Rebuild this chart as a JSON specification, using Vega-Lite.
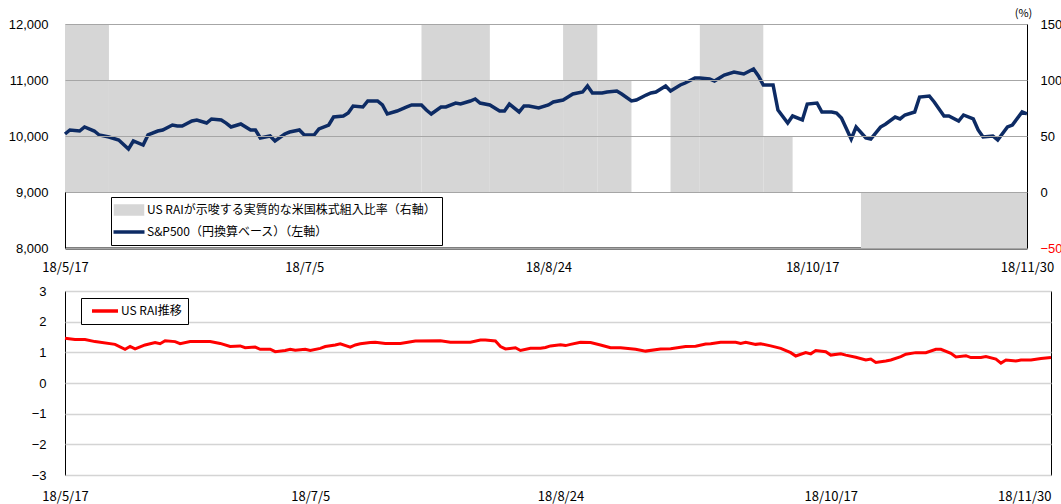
{
  "$schema": "https://vega.github.io/schema/vega-lite/v6.json",
  "background": "white",
  "padding": {"left": 7, "top": 6, "right": 0, "bottom": 0},
  "spacing": 9,
  "config": {
    "view": {"stroke": "#000", "strokeWidth": 1},
    "axis": {"ticks": false, "domain": false, "grid": false, "labelFont": "Liberation Sans", "labelFontSize": 13, "labelColor": "#000", "titleColor": "#000"}
  },
  "datasets": {
    "bars": [
      {"start": "2018-05-17", "end": "2018-05-26", "ratio": 150},
      {"start": "2018-05-26", "end": "2018-07-29", "ratio": 100},
      {"start": "2018-07-29", "end": "2018-08-12", "ratio": 150},
      {"start": "2018-08-12", "end": "2018-08-27", "ratio": 100},
      {"start": "2018-08-27", "end": "2018-09-03", "ratio": 150},
      {"start": "2018-09-03", "end": "2018-09-10", "ratio": 100},
      {"start": "2018-09-10", "end": "2018-09-18", "ratio": 0},
      {"start": "2018-09-18", "end": "2018-09-24", "ratio": 100},
      {"start": "2018-09-24", "end": "2018-10-07", "ratio": 150},
      {"start": "2018-10-07", "end": "2018-10-13", "ratio": 50},
      {"start": "2018-10-13", "end": "2018-10-27", "ratio": 0},
      {"start": "2018-10-27", "end": "2018-11-30", "ratio": -50}
    ],
    "sp": [
      {"date": "2018-05-17", "sp500": 10036}, {"date": "2018-05-18", "sp500": 10107}, {"date": "2018-05-20", "sp500": 10089}, {"date": "2018-05-21", "sp500": 10161},
      {"date": "2018-05-23", "sp500": 10089}, {"date": "2018-05-24", "sp500": 10018}, {"date": "2018-05-26", "sp500": 9982}, {"date": "2018-05-28", "sp500": 9929},
      {"date": "2018-05-30", "sp500": 9768}, {"date": "2018-05-31", "sp500": 9911}, {"date": "2018-06-02", "sp500": 9839}, {"date": "2018-06-03", "sp500": 10018},
      {"date": "2018-06-05", "sp500": 10089}, {"date": "2018-06-06", "sp500": 10107}, {"date": "2018-06-08", "sp500": 10196}, {"date": "2018-06-09", "sp500": 10179},
      {"date": "2018-06-10", "sp500": 10179}, {"date": "2018-06-12", "sp500": 10268}, {"date": "2018-06-13", "sp500": 10286}, {"date": "2018-06-15", "sp500": 10232},
      {"date": "2018-06-16", "sp500": 10304}, {"date": "2018-06-18", "sp500": 10286}, {"date": "2018-06-19", "sp500": 10230}, {"date": "2018-06-20", "sp500": 10161},
      {"date": "2018-06-22", "sp500": 10214}, {"date": "2018-06-24", "sp500": 10107}, {"date": "2018-06-25", "sp500": 10107}, {"date": "2018-06-26", "sp500": 9964},
      {"date": "2018-06-28", "sp500": 10000}, {"date": "2018-06-29", "sp500": 9911}, {"date": "2018-07-01", "sp500": 10036}, {"date": "2018-07-02", "sp500": 10071},
      {"date": "2018-07-04", "sp500": 10107}, {"date": "2018-07-05", "sp500": 10018}, {"date": "2018-07-07", "sp500": 10018}, {"date": "2018-07-08", "sp500": 10125},
      {"date": "2018-07-10", "sp500": 10196}, {"date": "2018-07-11", "sp500": 10339}, {"date": "2018-07-13", "sp500": 10357}, {"date": "2018-07-14", "sp500": 10411},
      {"date": "2018-07-15", "sp500": 10536}, {"date": "2018-07-17", "sp500": 10518}, {"date": "2018-07-18", "sp500": 10625}, {"date": "2018-07-20", "sp500": 10625},
      {"date": "2018-07-21", "sp500": 10554}, {"date": "2018-07-22", "sp500": 10393}, {"date": "2018-07-24", "sp500": 10446}, {"date": "2018-07-26", "sp500": 10518},
      {"date": "2018-07-27", "sp500": 10554}, {"date": "2018-07-29", "sp500": 10554}, {"date": "2018-07-30", "sp500": 10464}, {"date": "2018-07-31", "sp500": 10393},
      {"date": "2018-08-02", "sp500": 10518}, {"date": "2018-08-03", "sp500": 10518}, {"date": "2018-08-05", "sp500": 10589}, {"date": "2018-08-06", "sp500": 10571},
      {"date": "2018-08-08", "sp500": 10625}, {"date": "2018-08-09", "sp500": 10661}, {"date": "2018-08-10", "sp500": 10589}, {"date": "2018-08-12", "sp500": 10554},
      {"date": "2018-08-14", "sp500": 10446}, {"date": "2018-08-15", "sp500": 10446}, {"date": "2018-08-16", "sp500": 10571}, {"date": "2018-08-18", "sp500": 10429},
      {"date": "2018-08-19", "sp500": 10536}, {"date": "2018-08-20", "sp500": 10536}, {"date": "2018-08-22", "sp500": 10500}, {"date": "2018-08-24", "sp500": 10554},
      {"date": "2018-08-25", "sp500": 10607}, {"date": "2018-08-27", "sp500": 10643}, {"date": "2018-08-28", "sp500": 10696}, {"date": "2018-08-29", "sp500": 10750},
      {"date": "2018-08-31", "sp500": 10786}, {"date": "2018-09-01", "sp500": 10893}, {"date": "2018-09-02", "sp500": 10768}, {"date": "2018-09-04", "sp500": 10768},
      {"date": "2018-09-05", "sp500": 10786}, {"date": "2018-09-07", "sp500": 10804}, {"date": "2018-09-08", "sp500": 10750}, {"date": "2018-09-10", "sp500": 10625},
      {"date": "2018-09-11", "sp500": 10643}, {"date": "2018-09-13", "sp500": 10732}, {"date": "2018-09-14", "sp500": 10768}, {"date": "2018-09-15", "sp500": 10786},
      {"date": "2018-09-17", "sp500": 10893}, {"date": "2018-09-18", "sp500": 10804}, {"date": "2018-09-20", "sp500": 10911}, {"date": "2018-09-21", "sp500": 10946},
      {"date": "2018-09-23", "sp500": 11036}, {"date": "2018-09-24", "sp500": 11036}, {"date": "2018-09-26", "sp500": 11018}, {"date": "2018-09-27", "sp500": 10982},
      {"date": "2018-09-29", "sp500": 11089}, {"date": "2018-10-01", "sp500": 11143}, {"date": "2018-10-03", "sp500": 11107}, {"date": "2018-10-05", "sp500": 11196},
      {"date": "2018-10-06", "sp500": 11071}, {"date": "2018-10-07", "sp500": 10911}, {"date": "2018-10-09", "sp500": 10911}, {"date": "2018-10-10", "sp500": 10464},
      {"date": "2018-10-12", "sp500": 10232}, {"date": "2018-10-13", "sp500": 10357}, {"date": "2018-10-15", "sp500": 10286}, {"date": "2018-10-16", "sp500": 10571},
      {"date": "2018-10-18", "sp500": 10589}, {"date": "2018-10-19", "sp500": 10429}, {"date": "2018-10-21", "sp500": 10429}, {"date": "2018-10-22", "sp500": 10411},
      {"date": "2018-10-23", "sp500": 10321}, {"date": "2018-10-25", "sp500": 9946}, {"date": "2018-10-26", "sp500": 10161}, {"date": "2018-10-28", "sp500": 9964},
      {"date": "2018-10-29", "sp500": 9946}, {"date": "2018-10-31", "sp500": 10160}, {"date": "2018-11-01", "sp500": 10210}, {"date": "2018-11-03", "sp500": 10339},
      {"date": "2018-11-04", "sp500": 10304}, {"date": "2018-11-05", "sp500": 10375}, {"date": "2018-11-07", "sp500": 10429}, {"date": "2018-11-08", "sp500": 10696},
      {"date": "2018-11-10", "sp500": 10714}, {"date": "2018-11-11", "sp500": 10607}, {"date": "2018-11-13", "sp500": 10357}, {"date": "2018-11-14", "sp500": 10357},
      {"date": "2018-11-16", "sp500": 10268}, {"date": "2018-11-17", "sp500": 10375}, {"date": "2018-11-19", "sp500": 10304}, {"date": "2018-11-20", "sp500": 10107},
      {"date": "2018-11-21", "sp500": 9982}, {"date": "2018-11-23", "sp500": 10000}, {"date": "2018-11-24", "sp500": 9929}, {"date": "2018-11-26", "sp500": 10161},
      {"date": "2018-11-27", "sp500": 10196}, {"date": "2018-11-29", "sp500": 10429}, {"date": "2018-11-30", "sp500": 10393}
    ],
    "rai": [
      {"date": "2018-05-17", "rai": 1.46}, {"date": "2018-05-19", "rai": 1.42}, {"date": "2018-05-21", "rai": 1.42}, {"date": "2018-05-23", "rai": 1.35},
      {"date": "2018-05-27", "rai": 1.26}, {"date": "2018-05-29", "rai": 1.10}, {"date": "2018-05-30", "rai": 1.19}, {"date": "2018-05-31", "rai": 1.11},
      {"date": "2018-06-02", "rai": 1.24}, {"date": "2018-06-04", "rai": 1.32}, {"date": "2018-06-05", "rai": 1.28}, {"date": "2018-06-06", "rai": 1.38},
      {"date": "2018-06-08", "rai": 1.35}, {"date": "2018-06-09", "rai": 1.28}, {"date": "2018-06-11", "rai": 1.35}, {"date": "2018-06-15", "rai": 1.35},
      {"date": "2018-06-17", "rai": 1.29}, {"date": "2018-06-19", "rai": 1.19}, {"date": "2018-06-21", "rai": 1.21}, {"date": "2018-06-22", "rai": 1.15},
      {"date": "2018-06-24", "rai": 1.17}, {"date": "2018-06-25", "rai": 1.10}, {"date": "2018-06-27", "rai": 1.10}, {"date": "2018-06-28", "rai": 1.02},
      {"date": "2018-06-30", "rai": 1.06}, {"date": "2018-07-01", "rai": 1.10}, {"date": "2018-07-02", "rai": 1.07}, {"date": "2018-07-04", "rai": 1.10},
      {"date": "2018-07-05", "rai": 1.06}, {"date": "2018-07-07", "rai": 1.13}, {"date": "2018-07-08", "rai": 1.19}, {"date": "2018-07-10", "rai": 1.24},
      {"date": "2018-07-11", "rai": 1.28}, {"date": "2018-07-13", "rai": 1.17}, {"date": "2018-07-14", "rai": 1.24}, {"date": "2018-07-15", "rai": 1.28},
      {"date": "2018-07-17", "rai": 1.32}, {"date": "2018-07-18", "rai": 1.33}, {"date": "2018-07-20", "rai": 1.29}, {"date": "2018-07-23", "rai": 1.29},
      {"date": "2018-07-26", "rai": 1.37}, {"date": "2018-07-31", "rai": 1.38}, {"date": "2018-08-02", "rai": 1.33}, {"date": "2018-08-06", "rai": 1.33},
      {"date": "2018-08-08", "rai": 1.40}, {"date": "2018-08-09", "rai": 1.40}, {"date": "2018-08-11", "rai": 1.37}, {"date": "2018-08-12", "rai": 1.19},
      {"date": "2018-08-13", "rai": 1.11}, {"date": "2018-08-15", "rai": 1.15}, {"date": "2018-08-16", "rai": 1.06}, {"date": "2018-08-18", "rai": 1.13},
      {"date": "2018-08-20", "rai": 1.13}, {"date": "2018-08-21", "rai": 1.16}, {"date": "2018-08-22", "rai": 1.21}, {"date": "2018-08-24", "rai": 1.25},
      {"date": "2018-08-25", "rai": 1.22}, {"date": "2018-08-26", "rai": 1.26}, {"date": "2018-08-28", "rai": 1.33}, {"date": "2018-08-30", "rai": 1.32},
      {"date": "2018-09-01", "rai": 1.24}, {"date": "2018-09-03", "rai": 1.15}, {"date": "2018-09-05", "rai": 1.15}, {"date": "2018-09-08", "rai": 1.10},
      {"date": "2018-09-10", "rai": 1.04}, {"date": "2018-09-13", "rai": 1.11}, {"date": "2018-09-15", "rai": 1.12}, {"date": "2018-09-18", "rai": 1.19},
      {"date": "2018-09-20", "rai": 1.20}, {"date": "2018-09-22", "rai": 1.27}, {"date": "2018-09-23", "rai": 1.28}, {"date": "2018-09-25", "rai": 1.33},
      {"date": "2018-09-28", "rai": 1.33}, {"date": "2018-09-29", "rai": 1.29}, {"date": "2018-09-30", "rai": 1.33}, {"date": "2018-10-02", "rai": 1.26},
      {"date": "2018-10-03", "rai": 1.28}, {"date": "2018-10-05", "rai": 1.21}, {"date": "2018-10-06", "rai": 1.17}, {"date": "2018-10-07", "rai": 1.13},
      {"date": "2018-10-09", "rai": 0.99}, {"date": "2018-10-10", "rai": 0.88}, {"date": "2018-10-12", "rai": 0.99}, {"date": "2018-10-13", "rai": 0.95},
      {"date": "2018-10-14", "rai": 1.06}, {"date": "2018-10-16", "rai": 1.02}, {"date": "2018-10-17", "rai": 0.91}, {"date": "2018-10-19", "rai": 0.95},
      {"date": "2018-10-20", "rai": 0.91}, {"date": "2018-10-22", "rai": 0.84}, {"date": "2018-10-24", "rai": 0.75}, {"date": "2018-10-25", "rai": 0.78},
      {"date": "2018-10-26", "rai": 0.67}, {"date": "2018-10-28", "rai": 0.72}, {"date": "2018-10-29", "rai": 0.75}, {"date": "2018-10-31", "rai": 0.86},
      {"date": "2018-11-01", "rai": 0.94}, {"date": "2018-11-03", "rai": 0.99}, {"date": "2018-11-05", "rai": 0.99}, {"date": "2018-11-07", "rai": 1.10},
      {"date": "2018-11-08", "rai": 1.10}, {"date": "2018-11-10", "rai": 0.97}, {"date": "2018-11-11", "rai": 0.85}, {"date": "2018-11-13", "rai": 0.89},
      {"date": "2018-11-14", "rai": 0.83}, {"date": "2018-11-16", "rai": 0.83}, {"date": "2018-11-17", "rai": 0.86}, {"date": "2018-11-19", "rai": 0.78},
      {"date": "2018-11-20", "rai": 0.65}, {"date": "2018-11-21", "rai": 0.75}, {"date": "2018-11-23", "rai": 0.72}, {"date": "2018-11-24", "rai": 0.75},
      {"date": "2018-11-26", "rai": 0.75}, {"date": "2018-11-28", "rai": 0.80}, {"date": "2018-11-30", "rai": 0.83}
    ]
  },
  "vconcat": [
    {
      "width": 962,
      "height": 224,
      "layer": [
        {
          "data": {"name": "bars"},
          "mark": {"type": "rect"},
          "encoding": {
            "x": {
              "field": "start", "type": "temporal",
              "scale": {"domain": [{"year": 2018, "month": 5, "date": 17}, {"year": 2018, "month": 11, "date": 30}]},
              "axis": {
                "title": null, "format": "%y/%-m/%-d",
                "values": [{"year": 2018, "month": 5, "date": 17}, {"year": 2018, "month": 7, "date": 5}, {"year": 2018, "month": 8, "date": 24}, {"year": 2018, "month": 10, "date": 17}, {"year": 2018, "month": 11, "date": 30}],
                "labelFont": "Noto Sans CJK JP", "labelFontSize": 13, "labelPadding": 13, "labelFlush": false, "labelOverlap": false, "labelBound": false,
                "domain": true, "domainColor": "#000", "domainWidth": 2
              }
            },
            "x2": {"field": "end"},
            "y": {
              "field": "ratio", "type": "quantitative",
              "scale": {"domain": [-50, 150], "nice": false},
              "axis": {
                "orient": "right", "values": [-50, 0, 50, 100, 150], "labelPadding": 13,
                "labelColor": {"condition": {"test": "datum.value < 0", "value": "#FF0000"}, "value": "#000"},
                "title": "(%)", "titleAngle": 0, "titleX": -4, "titleY": -11, "titleAlign": "center", "titleBaseline": "middle",
                "titleFont": "Noto Sans CJK JP", "titleFontSize": 11, "titleFontWeight": "normal"
              }
            },
            "y2": {"datum": 0},
            "color": {
              "datum": "US RAIが示唆する実質的な米国株式組入比率（右軸）",
              "type": "nominal",
              "scale": {"domain": ["US RAIが示唆する実質的な米国株式組入比率（右軸）", "S&P500（円換算ベース）（左軸）"], "range": ["#D6D6D6", "#0D2B64"]},
              "legend": {
                "orient": "none", "legendX": 46, "legendY": 173, "title": null,
                "strokeColor": "#000", "fillColor": "#fff", "padding": 6, "rowPadding": 4,
                "labelFont": "Noto Sans CJK JP", "labelFontSize": 12, "labelColor": "#000", "labelLimit": 0,
                "symbolSize": 100,
                "encode": {
                  "symbols": {"update": {
                    "x": {"value": 12},
                    "shape": {"signal": "datum.index === 0 ? 'M-2.7,-0.8H2.7V0.8H-2.7Z' : 'M-3.1,0H3.1'"},
                    "size": {"value": 100},
                    "fill": {"signal": "datum.index === 0 ? '#D6D6D6' : 'transparent'"},
                    "stroke": {"signal": "datum.index === 0 ? 'transparent' : '#0D2B64'"},
                    "strokeWidth": {"value": 3.5},
                    "opacity": {"value": 1}
                  }},
                  "labels": {"update": {"x": {"value": 30}}}
                }
              }
            }
          }
        },
        {
          "data": {"name": "sp"},
          "mark": {"type": "line", "strokeWidth": 3.5},
          "encoding": {
            "x": {"field": "date", "type": "temporal"},
            "y": {
              "field": "sp500", "type": "quantitative",
              "scale": {"domain": [8000, 12000], "nice": false},
              "axis": {
                "orient": "left", "title": null, "values": [8000, 9000, 10000, 11000, 12000],
                "labelExpr": "format(datum.value, ',')",
                "labelPadding": 17, "grid": true, "gridColor": "#A6A6A6", "gridWidth": 1, "zindex": 1
              }
            },
            "color": {"datum": "S&P500（円換算ベース）（左軸）", "type": "nominal"}
          }
        }
      ],
      "resolve": {"scale": {"y": "independent"}}
    },
    {
      "width": 986,
      "height": 184,
      "data": {"name": "rai"},
      "mark": {"type": "line", "strokeWidth": 3},
      "encoding": {
        "x": {
          "field": "date", "type": "temporal",
          "scale": {"domain": [{"year": 2018, "month": 5, "date": 17}, {"year": 2018, "month": 11, "date": 30}]},
          "axis": {
            "title": null, "format": "%y/%-m/%-d",
            "values": [{"year": 2018, "month": 5, "date": 17}, {"year": 2018, "month": 7, "date": 5}, {"year": 2018, "month": 8, "date": 24}, {"year": 2018, "month": 10, "date": 17}, {"year": 2018, "month": 11, "date": 30}],
            "labelFont": "Noto Sans CJK JP", "labelFontSize": 13, "labelPadding": 15, "labelFlush": false, "labelOverlap": false, "labelBound": false,
            "labelAlign": {"expr": "datum.value > datetime(2018, 10, 20) ? 'right' : 'center'"}
          }
        },
        "y": {
          "field": "rai", "type": "quantitative",
          "scale": {"domain": [-3, 3], "nice": false},
          "axis": {
            "title": null, "values": [-3, -2, -1, 0, 1, 2, 3], "labelPadding": 19,
            "grid": true, "gridColor": "#D4D4D4", "gridWidth": 1.5
          }
        },
        "color": {
          "datum": "US RAI推移", "type": "nominal",
          "scale": {"domain": ["US RAI推移"], "range": ["#FF0000"]},
          "legend": {
            "orient": "none", "legendX": 16, "legendY": 7, "title": null,
            "strokeColor": "#000", "fillColor": "#fff", "padding": 6,
            "labelFont": "Noto Sans CJK JP", "labelFontSize": 12, "labelColor": "#000", "labelLimit": 0,
            "symbolSize": 100,
            "encode": {
              "symbols": {"update": {
                "x": {"value": 18},
                "shape": {"value": "M-2.6,0H2.6"},
                "size": {"value": 100},
                "fill": {"value": "transparent"},
                "stroke": {"value": "#FF0000"},
                "strokeWidth": {"value": 3.5},
                "opacity": {"value": 1}
              }},
              "labels": {"update": {"x": {"value": 34}}}
            }
          }
        }
      }
    }
  ],
  "resolve": {"scale": {"color": "independent"}, "legend": {"color": "independent"}}
}
